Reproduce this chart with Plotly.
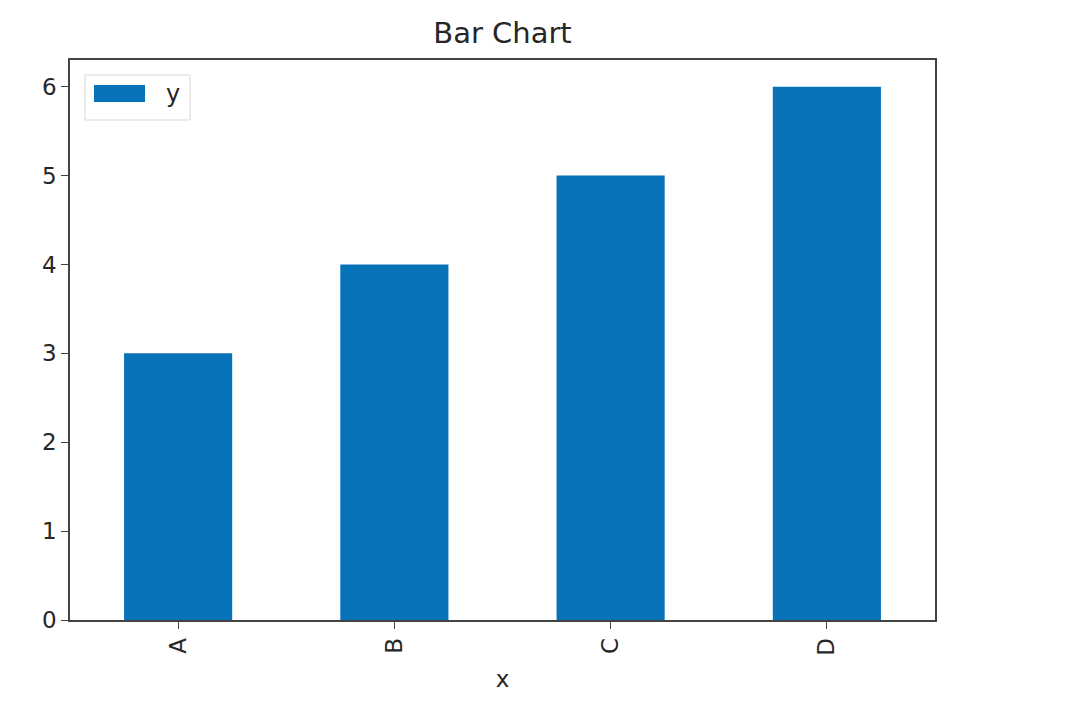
import plotly.graph_objects as go

categories = ["A", "B", "C", "D"]
values = [3, 4, 5, 6]
series_name = "y"

BLUE = "#0772b8"
W, H = 1064, 712
L, R, T, B = 62, 927, 52, 612  # plot area in figure pixels

def px(x):
    return (x - L) / (R - L)

def py(y):
    return (B - y) / (B - T)

fig = go.Figure()
fig.add_trace(go.Bar(x=categories, y=values, name=series_name, width=0.5,
                     marker=dict(color=BLUE, line=dict(width=0)), showlegend=False))

# legend drawn manually (wide patch like matplotlib)
fig.add_shape(type="rect", xref="paper", yref="paper",
              x0=px(77), x1=px(182), y0=py(112), y1=py(67),
              line=dict(color="#d9d9d9", width=1), fillcolor="white", layer="above")
fig.add_shape(type="rect", xref="paper", yref="paper",
              x0=px(86), x1=px(137), y0=py(94), y1=py(77),
              line=dict(width=0), fillcolor=BLUE, layer="above")
fig.add_annotation(text=series_name, xref="paper", yref="paper", x=px(156), y=py(86),
                   xanchor="left", yanchor="middle", showarrow=False,
                   font=dict(size=24, color="#262626"))

fig.update_layout(
    width=W, height=H,
    margin=dict(l=L, r=W - R, t=T, b=H - B),
    paper_bgcolor="white", plot_bgcolor="white",
    font=dict(family="DejaVu Sans", size=23, color="#262626"),
    title=dict(text="Bar Chart", x=((L + R) / 2) / W, xanchor="center",
               y=1 - 25 / H, yanchor="middle", font=dict(size=29, color="#262626")),
    showlegend=False,
    xaxis=dict(range=[-0.5, 3.5], tickangle=-90, showline=True, linecolor="#444",
               linewidth=1.5, mirror=True, ticks="outside", ticklen=7, tickcolor="#444",
               title=dict(text="x", standoff=16, font=dict(size=23)), showgrid=False),
    yaxis=dict(range=[0, 6.3], dtick=1, showline=True, linecolor="#444", linewidth=1.5,
               mirror=True, ticks="outside", ticklen=7, tickcolor="#444", showgrid=False,
               zeroline=False),
)

fig.write_html("out.html")
